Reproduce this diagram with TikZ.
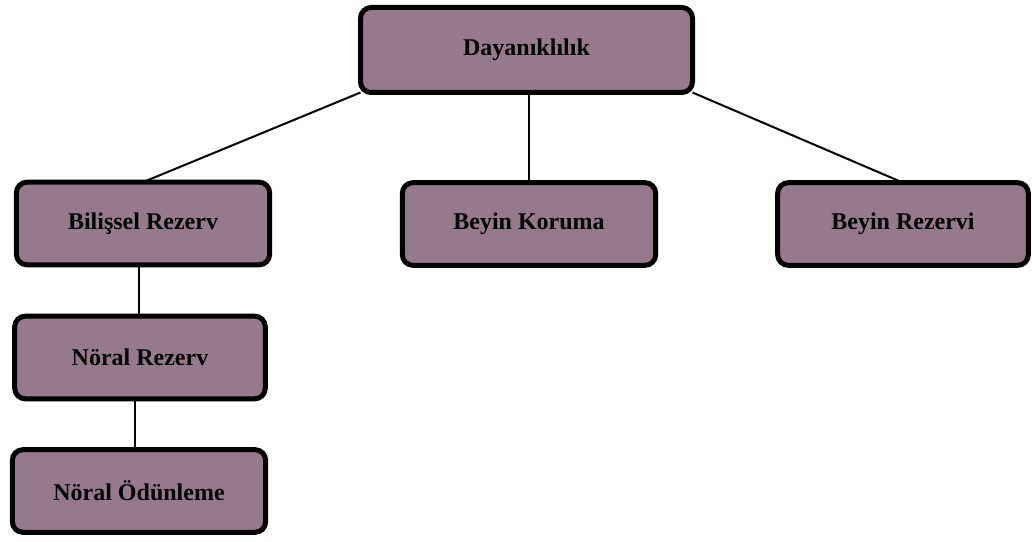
\documentclass[tikz,border=0pt]{standalone}
\usepackage{fontspec}
\setmainfont{Liberation Serif}
\definecolor{mauve}{HTML}{967A8C}
\tikzset{
  kutu/.style={draw=black,line width=3.75pt,rounded corners=8pt,fill=mauve,
    inner sep=0pt,outer sep=0pt,font=\fontsize{18}{20}\selectfont\bfseries},
  bag/.style={draw=black,line width=1.5pt}
}
\begin{document}
\begin{tikzpicture}[x=0.75pt,y=0.75pt,yscale=-1]
\useasboundingbox (0,0) rectangle (1032,542);

% begin boxes
\node [kutu,minimum width=249pt,minimum height=63.75pt] (dayan) at (526.5,50) {Dayanıklılık};
\node [kutu,minimum width=190pt,minimum height=62pt] (bilis) at (143,223.5) {Bilişsel Rezerv};
\node [kutu,minimum width=190pt,minimum height=62pt] (koru) at (529,224) {Beyin Koruma};
\node [kutu,minimum width=188pt,minimum height=62pt] (brez) at (903,224) {Beyin Rezervi};
\node [kutu,minimum width=188pt,minimum height=62pt] (nrez) at (140,357.5) {Nöral Rezerv};
\node [kutu,minimum width=190pt,minimum height=62pt] (nodun) at (139,491) {Nöral Ödünleme};

% connectors
\draw [bag] (dayan.south west) -- (bilis.north);
\draw [bag] (koru.north) -- (koru.north |- dayan.south);
\draw [bag] (dayan.south east) -- (brez.north);
\draw [bag] ([xshift=-3pt]bilis.south) -- ([xshift=-3pt]bilis.south |- nrez.north);
\draw [bag] ([xshift=-3pt]nodun.north) -- ([xshift=-3pt]nodun.north |- nrez.south);

\end{tikzpicture}
\end{document}
